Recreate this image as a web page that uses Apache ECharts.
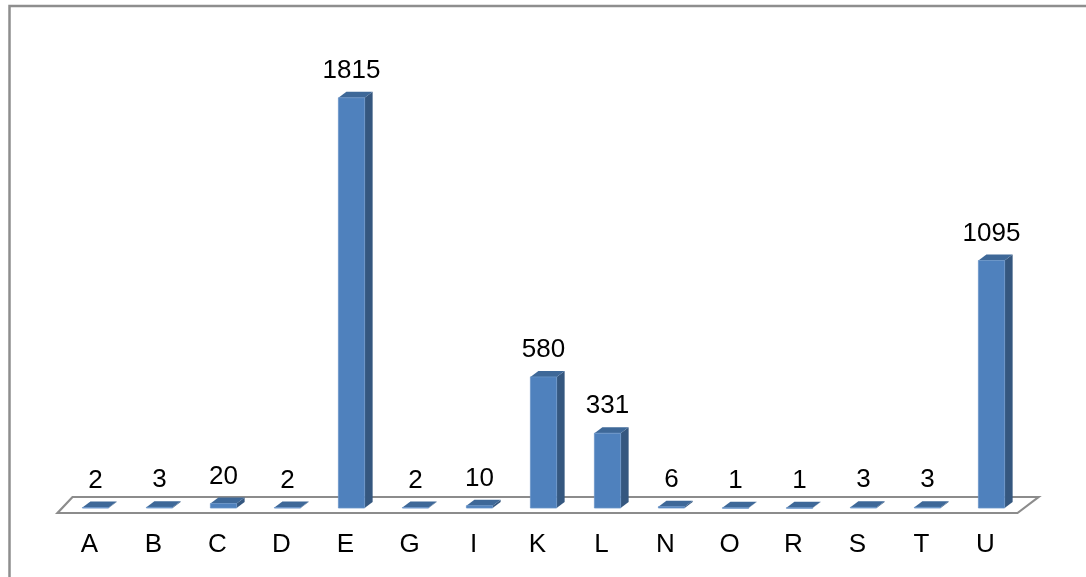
<!DOCTYPE html>
<html>
<head>
<meta charset="utf-8">
<script src="https://cdn.jsdelivr.net/npm/echarts@6/dist/echarts.min.js"></script>
<style>html,body{margin:0;padding:0;background:#fff;}#c{width:1086px;height:577px;}</style>
</head>
<body>
<div id="c"></div>
<script>
const categories = ['A','B','C','D','E','G','I','K','L','N','O','R','S','T','U'];
const values = [2,3,20,2,1815,2,10,580,331,6,1,1,3,3,1095];
const yMax = 2000;

const chart = echarts.init(document.getElementById('c'), null, {renderer:'canvas'});
const FONT = '26px "Liberation Sans", Arial, sans-serif';

function renderFloor(params, api) {
  const n = categories.length;
  const a = api.coord([0, 0]);
  const b = api.coord([n - 1, 0]);
  const band = api.size([1, 0])[0];
  const xl = a[0] - band / 2, xr = b[0] + band / 2;
  const yf = a[1] + 5, yb = a[1] - 11;
  return {
    type: 'polygon',
    shape: { points: [[xl, yf], [xr, yf], [xr + 21, yb], [xl + 15, yb]] },
    style: { fill: '#ffffff', stroke: '#8c8c8c', lineWidth: 2.2 },
    z2: 0
  };
}

function renderBar(params, api) {
  const i = api.value(0), v = api.value(1);
  const base = api.coord([i, 0]);
  const top = api.coord([i, v]);
  const band = api.size([1, 0])[0];
  const w = band * 0.41, off = band * 0.094, dx = band * 0.125, dy = band * 0.094;
  const cx = base[0] + off;
  const xl = cx - w / 2, xr = cx + w / 2;
  const yt = top[1], yb = base[1];
  return {
    type: 'group',
    children: [
      { type: 'polygon', shape: { points: [[xr, yt], [xr + dx, yt - dy], [xr + dx, yb - dy], [xr, yb]] },
        style: { fill: '#35577f' } },
      { type: 'polygon', shape: { points: [[xl, yt], [xl + dx, yt - dy], [xr + dx, yt - dy], [xr, yt]] },
        style: { fill: '#3e6898' } },
      { type: 'rect', shape: { x: xl, y: yt, width: w, height: Math.max(yb - yt, 0.5) },
        style: { fill: '#4f81bd', stroke: '#6a94c8', lineWidth: 0.8 } },
      { type: 'text', style: { text: String(v), x: cx, y: yt - dy - 21, align: 'center', verticalAlign: 'middle',
        font: FONT, fill: '#000000' } }
    ]
  };
}

chart.setOption({
  animation: false,
  backgroundColor: '#ffffff',
  graphic: [{
    type: 'rect', shape: { x: 9.5, y: 6, width: 1200, height: 700 },
    style: { fill: 'none', stroke: '#8e8e8e', lineWidth: 2.5 }, silent: true
  }],
  grid: { left: 57.5, right: 68.5, top: 56, bottom: 69, containLabel: false },
  xAxis: {
    type: 'category', data: categories,
    axisLine: { show: false }, axisTick: { show: false },
    axisLabel: { margin: 24, color: '#000000', fontSize: 26, fontFamily: '"Liberation Sans", Arial, sans-serif' }
  },
  yAxis: { type: 'value', min: 0, max: yMax, show: false, splitLine: { show: false } },
  series: [
    { type: 'custom', renderItem: renderFloor, data: [[0, 0]], z: 1, silent: true },
    { type: 'custom', renderItem: renderBar, data: values.map((v, i) => [i, v]), encode: { x: 0, y: 1 }, z: 2 }
  ]
});
</script>
</body>
</html>
